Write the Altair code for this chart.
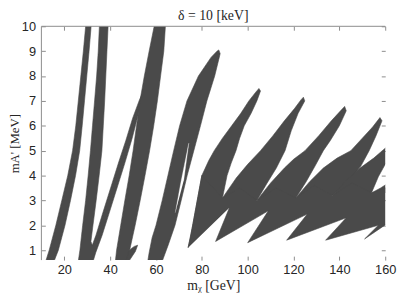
import altair as alt
import pandas as pd

# ---- axis ticks ----
x_ticks = [20, 40, 60, 80, 100, 120, 140, 160]
y_ticks = [1, 2, 3, 4, 5, 6, 7, 8, 9, 10]

# ---- allowed regions (m_chi [GeV], m_A' [MeV]) outlines ----
band1 = [(11.7, 0.5), (13.4, 1), (16.3, 2), (18.9, 3), (21.5, 4), (23.6, 5), (25.0, 6), (26.1, 7),
         (27.2, 8), (28.3, 9), (29.3, 10), (29.5, 10.3),
         (31.9, 10.3), (31.7, 10), (30.8, 9), (29.8, 8), (28.8, 7), (27.8, 6), (26.7, 5), (24.9, 4),
         (22.7, 3), (20.3, 2), (17.4, 1), (15.3, 0.5)]

band2 = [(26.0, 0.5), (26.8, 1), (28.0, 2), (29.3, 3), (30.4, 4), (31.4, 5), (32.3, 6), (33.2, 7),
         (34.1, 8), (34.8, 9), (35.3, 10), (35.4, 10.3),
         (39.2, 10.3), (39.1, 10), (38.6, 9), (38.1, 8), (37.6, 7), (37.0, 6), (36.4, 5), (35.2, 4),
         (33.9, 3), (32.5, 2), (31.6, 1.35),
         (32.2, 1.2), (33.8, 1.6), (36.8, 2.5), (40.2, 3.5), (43.6, 4.5), (46.8, 5.4), (49.8, 6.3),
         (52.6, 7.0), (54.5, 7.4),
         (55.2, 7.2), (52.4, 6.5), (49.6, 5.5), (46.4, 4.5), (43.0, 3.5), (39.6, 2.5), (36.5, 1.6),
         (33.7, 0.9), (32.4, 0.5)]

band3 = [(42.2, 0.5), (42.8, 1), (44.6, 2), (46.4, 3), (48.3, 4), (50.0, 5), (51.5, 6), (53.0, 7),
         (54.9, 8), (57.0, 9), (59.2, 10), (59.6, 10.3),
         (64.2, 10.3), (64.1, 10), (63.4, 9), (62.0, 8), (60.6, 7), (59.0, 6), (57.2, 5), (55.2, 4),
         (53.1, 3), (50.9, 2), (48.5, 1), (47.5, 0.5)]

band3_arm = [(47.0, 0.6), (48.3, 1.0), (50.5, 1.15), (52.0, 1.2), (51.0, 0.95), (48.5, 0.6)]

spike4 = [(56.3, 0.5), (57.0, 0.9), (58.3, 1.5), (60.0, 2), (62.7, 3), (65.2, 4), (67.7, 5), (70.3, 6),
          (73.5, 7), (78.5, 8), (84.0, 8.75), (86.6, 9.0), (87.4, 9.05),
          (88.0, 8.9), (85.6, 8), (82.2, 7), (79.4, 6), (76.5, 5), (73.6, 4), (71.0, 3), (68.3, 2),
          (65.3, 1.2), (62.5, 0.5)]

spike5 = [(74.0, 1.1), (75.0, 1.5), (76.0, 2), (78.0, 3), (80.0, 4), (83.0, 4.6), (85.4, 5), (89.0, 5.5),
          (93.0, 6), (97.0, 6.5), (100.5, 7), (103.5, 7.35), (104.9, 7.5),
          (105.6, 7.4), (104.0, 7), (101.5, 6.5), (98.5, 6), (96.5, 5.5), (94.9, 5), (92.8, 4.5),
          (91.0, 4.0), (89.0, 3.1)]

spike6 = [(89.0, 3.1), (95.0, 3.9), (100.0, 4.45), (105.6, 5), (111.0, 5.6), (116.0, 6.2), (120.5, 6.7),
          (123.3, 7.05), (124.3, 7.15),
          (124.9, 7.0), (122.0, 6.5), (119.0, 5.8), (116.3, 5), (112.5, 4.3), (108.5, 3.7), (104.0, 3.0)]

spike7 = [(104.0, 3.0), (110.0, 3.7), (116.0, 4.3), (120.0, 4.65), (125.0, 5), (131.0, 5.6), (136.5, 6.2),
          (140.5, 6.6), (142.3, 6.78),
          (143.0, 6.6), (140.0, 6.0), (136.0, 5.4), (133.0, 5), (129.5, 4.4), (125.5, 3.75), (121.0, 3.1)]

spike8 = [(121.0, 3.1), (127.0, 3.75), (133.0, 4.3), (139.0, 4.7), (145.0, 5), (150.0, 5.5), (154.5, 5.95),
          (157.7, 6.33),
          (158.6, 6.2), (156.0, 5.6), (153.0, 5), (149.5, 4.4), (145.0, 3.85), (137.0, 3.2)]

spike9 = [(137.0, 3.2), (143.0, 3.8), (149.0, 4.3), (155.0, 4.7), (160.0, 5.1), (163.0, 5.3),
          (163.0, 4.75), (160.0, 4.45), (157.0, 3.95), (154.0, 3.3)]

spike10 = [(154.0, 3.3), (158.0, 3.5), (163.0, 3.8), (163.0, 3.3)]

merged = [(74.0, 1.1), (76.0, 2), (78.0, 3), (80.0, 4), (89.0, 3.1), (96.5, 3.5), (104.0, 3.0),
          (112.5, 3.5), (121.0, 3.1), (129.0, 3.6), (137.0, 3.2), (145.5, 3.7), (154.0, 3.3),
          (163.0, 3.6), (163.0, 2.2), (151.0, 1.45), (157.0, 2.0), (134.0, 1.4), (143.0, 2.3),
          (117.0, 1.4), (126.0, 2.45), (100.0, 1.3), (109.0, 2.58), (86.0, 1.35), (92.0, 2.7)]

gap4 = [(68.4, 2.5), (71.0, 3.8), (74.3, 5.3), (72.1, 3.8)]

frame_x = [160, 10, 10]
frame_y = [10, 10, 0.6]

dark_shapes = {"band1": band1, "band2": band2, "band3": band3, "band3_arm": band3_arm,
               "spike4": spike4, "spike5": spike5, "spike6": spike6, "spike7": spike7,
               "spike8": spike8, "spike9": spike9, "spike10": spike10, "merged": merged}
light_shapes = {"gap4": gap4}


def to_frame(shapes):
    rows = []
    for name, pts in shapes.items():
        for i, (x, y) in enumerate(pts):
            rows.append({"poly": name, "i": i, "x": x, "y": y})
    return pd.DataFrame(rows)


dark_df = to_frame(dark_shapes)
light_df = to_frame(light_shapes)
frame_df = pd.DataFrame({"x": frame_x, "y": frame_y, "i": list(range(len(frame_x)))})

xs = alt.Scale(domain=[10, 160], nice=False, zero=False)
ys = alt.Scale(domain=[0.6, 10], nice=False, zero=False)

FILL = "#4a4a4a"
TICK = "#8c8c8c"
TXT = "#262626"

x_axis = alt.Axis(values=x_ticks, orient="bottom", title="mᵪ [GeV]", domain=False, grid=False,
                  tickSize=4, offset=-4, tickColor=TICK, labelColor=TXT, labelFont="Liberation Sans",
                  labelFontSize=13, labelPadding=4, labelFlush=False, titleFont="Liberation Serif",
                  titleFontSize=14, titleFontWeight="normal", titleColor=TXT, titlePadding=2)
y_axis = alt.Axis(values=y_ticks, orient="left", title="mA' [MeV]", domain=False, grid=False,
                  tickSize=4, offset=-4, tickColor=TICK, labelColor=TXT, labelFont="Liberation Sans",
                  labelFontSize=13, labelPadding=6, labelFlush=False, titleFont="Liberation Serif",
                  titleFontSize=13, titleFontWeight="normal", titleColor=TXT, titlePadding=0)

dark = alt.Chart(dark_df).mark_line(fill=FILL, stroke=FILL, strokeWidth=0.6, clip=True,
                                    strokeJoin="round").encode(
    x=alt.X("x:Q", scale=xs, axis=x_axis),
    y=alt.Y("y:Q", scale=ys, axis=y_axis),
    detail="poly:N",
    order=alt.Order("i:Q"),
)

light = alt.Chart(light_df).mark_line(fill="white", stroke="white", strokeWidth=0.3, clip=True).encode(
    x=alt.X("x:Q", scale=xs, axis=None),
    y=alt.Y("y:Q", scale=ys, axis=None),
    detail="poly:N",
    order=alt.Order("i:Q"),
)

frame = alt.Chart(frame_df).mark_line(color=TICK, strokeWidth=1).encode(
    x=alt.X("x:Q", scale=xs, axis=alt.Axis(orient="top", values=x_ticks, labels=False, domain=False,
                                           tickSize=4, offset=-4, tickColor=TICK, grid=False, title=None,
                                           minExtent=0, maxExtent=0)),
    y=alt.Y("y:Q", scale=ys, axis=alt.Axis(orient="right", values=y_ticks, labels=False, domain=False,
                                           tickSize=4, offset=-4, tickColor=TICK, grid=False, title=None,
                                           minExtent=0, maxExtent=0)),
    order=alt.Order("i:Q"),
)

chart = alt.layer(dark, light, frame).resolve_axis(x="independent", y="independent").properties(
    width=350, height=238,
    title=alt.TitleParams("δ = 10 [keV]", font="Liberation Serif", fontSize=14, fontWeight="normal",
                          color=TXT, offset=-3, anchor="middle"),
    padding={"left": 34, "top": 16, "right": 12, "bottom": 38},
    autosize=alt.AutoSizeParams(type="none"),
).configure_view(stroke=None)

chart.save("out.html", embed_options={"renderer": "svg", "actions": False})
